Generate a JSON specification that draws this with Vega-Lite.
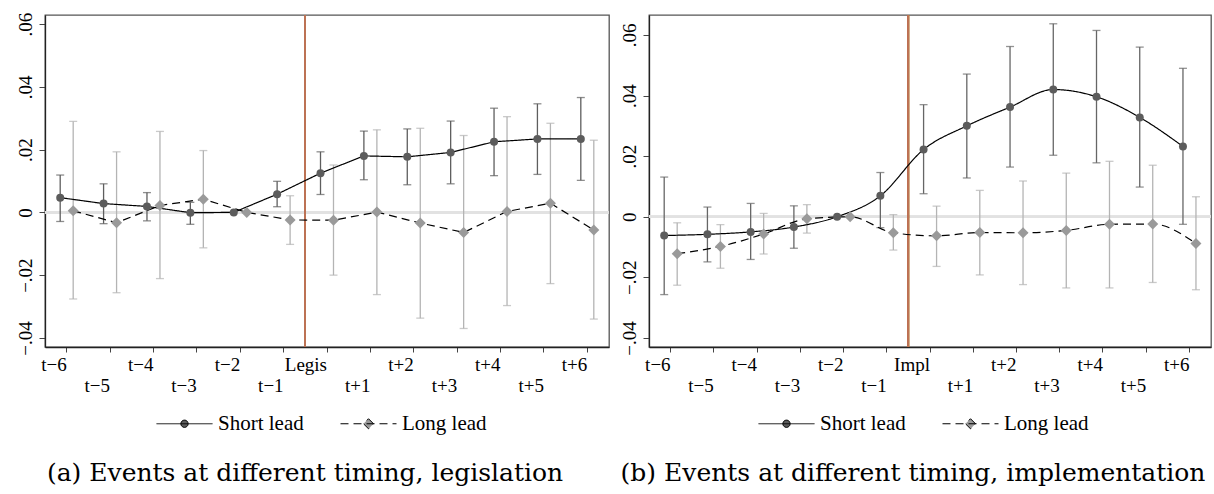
{
  "$schema": "https://vega.github.io/schema/vega-lite/v6.json",
  "background": "white",
  "padding": {"left": 15, "top": 11, "right": 5, "bottom": 5},
  "spacing": 8,
  "config": {
    "font": "Liberation Serif",
    "view": {"stroke": "#555", "strokeWidth": 1.3},
    "axis": {"grid": false, "labelFont": "Liberation Serif", "labelFontSize": 19, "labelColor": "black", "domainColor": "#222", "domainWidth": 1.3, "tickColor": "#444", "tickSize": 5},
    "legend": {"labelFont": "Liberation Serif", "labelFontSize": 21, "labelColor": "black"}
  },
  "resolve": {"scale": {"strokeDash": "independent"}, "legend": {"strokeDash": "independent"}},
  "datasets": {
    "a": [
      {"t": "t−6", "series": "Short lead", "b": 0.0047, "lo": -0.0029, "hi": 0.0119},
      {"t": "t−5", "series": "Short lead", "b": 0.0028, "lo": -0.0036, "hi": 0.0091},
      {"t": "t−4", "series": "Short lead", "b": 0.0019, "lo": -0.0027, "hi": 0.0063},
      {"t": "t−3", "series": "Short lead", "b": -0.0001, "lo": -0.0038, "hi": 0.0032},
      {"t": "t−2", "series": "Short lead", "b": 0, "lo": null, "hi": null},
      {"t": "t−1", "series": "Short lead", "b": 0.0058, "lo": 0.0018, "hi": 0.0099},
      {"t": "Legis", "series": "Short lead", "b": 0.0125, "lo": 0.0057, "hi": 0.0193},
      {"t": "t+1", "series": "Short lead", "b": 0.018, "lo": 0.0104, "hi": 0.0259},
      {"t": "t+2", "series": "Short lead", "b": 0.0177, "lo": 0.0088, "hi": 0.0266},
      {"t": "t+3", "series": "Short lead", "b": 0.0191, "lo": 0.0091, "hi": 0.0291},
      {"t": "t+4", "series": "Short lead", "b": 0.0225, "lo": 0.0117, "hi": 0.0332},
      {"t": "t+5", "series": "Short lead", "b": 0.0234, "lo": 0.0121, "hi": 0.0346},
      {"t": "t+6", "series": "Short lead", "b": 0.0234, "lo": 0.0102, "hi": 0.0366},
      {"t": "t−6", "series": "Long lead", "b": 0.0005, "lo": -0.0276, "hi": 0.029},
      {"t": "t−5", "series": "Long lead", "b": -0.0033, "lo": -0.0256, "hi": 0.0193},
      {"t": "t−4", "series": "Long lead", "b": 0.0022, "lo": -0.0211, "hi": 0.0258},
      {"t": "t−3", "series": "Long lead", "b": 0.0042, "lo": -0.0113, "hi": 0.0197},
      {"t": "t−2", "series": "Long lead", "b": 0, "lo": null, "hi": null},
      {"t": "t−1", "series": "Long lead", "b": -0.0024, "lo": -0.0102, "hi": 0.0053},
      {"t": "Legis", "series": "Long lead", "b": -0.0025, "lo": -0.02, "hi": 0.0151},
      {"t": "t+1", "series": "Long lead", "b": 0.0001, "lo": -0.0262, "hi": 0.0263},
      {"t": "t+2", "series": "Long lead", "b": -0.0034, "lo": -0.0337, "hi": 0.0268},
      {"t": "t+3", "series": "Long lead", "b": -0.0064, "lo": -0.037, "hi": 0.0245},
      {"t": "t+4", "series": "Long lead", "b": 0.0003, "lo": -0.0297, "hi": 0.0305},
      {"t": "t+5", "series": "Long lead", "b": 0.0029, "lo": -0.0227, "hi": 0.0284},
      {"t": "t+6", "series": "Long lead", "b": -0.0056, "lo": -0.034, "hi": 0.023}
    ],
    "b": [
      {"t": "t−6", "series": "Short lead", "b": -0.0062, "lo": -0.0257, "hi": 0.0131},
      {"t": "t−5", "series": "Short lead", "b": -0.0058, "lo": -0.0149, "hi": 0.0032},
      {"t": "t−4", "series": "Short lead", "b": -0.005, "lo": -0.0141, "hi": 0.0044},
      {"t": "t−3", "series": "Short lead", "b": -0.0034, "lo": -0.0104, "hi": 0.0036},
      {"t": "t−2", "series": "Short lead", "b": 0, "lo": null, "hi": null},
      {"t": "t−1", "series": "Short lead", "b": 0.0069, "lo": -0.0036, "hi": 0.0146},
      {"t": "Impl", "series": "Short lead", "b": 0.0222, "lo": 0.0076, "hi": 0.037},
      {"t": "t+1", "series": "Short lead", "b": 0.03, "lo": 0.0128, "hi": 0.0471},
      {"t": "t+2", "series": "Short lead", "b": 0.0362, "lo": 0.0164, "hi": 0.0562},
      {"t": "t+3", "series": "Short lead", "b": 0.042, "lo": 0.0203, "hi": 0.0637},
      {"t": "t+4", "series": "Short lead", "b": 0.0396, "lo": 0.0178, "hi": 0.0615},
      {"t": "t+5", "series": "Short lead", "b": 0.0328, "lo": 0.0098, "hi": 0.056},
      {"t": "t+6", "series": "Short lead", "b": 0.0232, "lo": -0.0025, "hi": 0.049},
      {"t": "t−6", "series": "Long lead", "b": -0.0122, "lo": -0.0226, "hi": -0.002},
      {"t": "t−5", "series": "Long lead", "b": -0.0098, "lo": -0.017, "hi": -0.0026},
      {"t": "t−4", "series": "Long lead", "b": -0.0057, "lo": -0.0123, "hi": 0.0011},
      {"t": "t−3", "series": "Long lead", "b": -0.0007, "lo": -0.0054, "hi": 0.004},
      {"t": "t−2", "series": "Long lead", "b": 0, "lo": null, "hi": null},
      {"t": "t−1", "series": "Long lead", "b": -0.0053, "lo": -0.011, "hi": 0.0007},
      {"t": "Impl", "series": "Long lead", "b": -0.0063, "lo": -0.0164, "hi": 0.0035},
      {"t": "t+1", "series": "Long lead", "b": -0.0052, "lo": -0.0192, "hi": 0.0087},
      {"t": "t+2", "series": "Long lead", "b": -0.0053, "lo": -0.0224, "hi": 0.0118},
      {"t": "t+3", "series": "Long lead", "b": -0.0045, "lo": -0.0235, "hi": 0.0144},
      {"t": "t+4", "series": "Long lead", "b": -0.0025, "lo": -0.0235, "hi": 0.0183},
      {"t": "t+5", "series": "Long lead", "b": -0.0024, "lo": -0.0217, "hi": 0.017},
      {"t": "t+6", "series": "Long lead", "b": -0.0088, "lo": -0.0241, "hi": 0.0066}
    ]
  },
  "hconcat": [
    {
      "width": 564,
      "height": 332,
      "data": {"name": "a"},
      "title": {"text": "(a) Events at different timing, legislation", "orient": "bottom", "anchor": "middle", "font": "DejaVu Serif", "fontSize": 25, "fontWeight": "normal", "color": "black", "offset": 27, "dx": -22},
      "layer": [
        {"mark": {"type": "rule", "color": "#e2e2e2", "strokeWidth": 2}, "encoding": {"y": {"datum": 0, "type": "quantitative"}}},
        {"mark": {"type": "rule", "color": "#bd7355", "strokeWidth": 1.3}, "encoding": {"x": {"datum": "Legis", "type": "nominal", "bandPosition": 0}}},
        {
          "mark": {"type": "rule", "strokeWidth": 1.3},
          "encoding": {
            "x": {"field": "t", "type": "nominal", "title": null, "sort": null, "scale": {"type": "band", "domain": ["t−6","t−5","t−4","t−3","t−2","t−1","Legis","t+1","t+2","t+3","t+4","t+5","t+6"], "paddingInner": 0, "paddingOuter": 0},
              "axis": {"labelAngle": 0, "domain": true, "labelPadding": 12, "labelLineHeight": 21, "labelExpr": "indexof(['t−5','t−3','t−1','t+1','t+3','t+5'], datum.value) >= 0 ? ['', datum.value] : datum.value"}},
            "xOffset": {"field": "series", "type": "nominal", "scale": {"domain": ["Short lead", "Long lead"], "paddingInner": 0, "paddingOuter": 0.67}},
            "y": {"field": "lo", "type": "quantitative", "title": null, "scale": {"domain": [-0.0429, 0.0629], "nice": false, "zero": false},
              "axis": {"values": [-0.04, -0.02, 0, 0.02, 0.04, 0.06], "labelAngle": -90, "labelAlign": "center", "labelBaseline": "bottom", "tickSize": 6, "labelPadding": 4, "labelExpr": "datum.value == 0 ? '0' : (datum.value < 0 ? '−' : '') + '.0' + round(abs(datum.value) * 100)"}},
            "y2": {"field": "hi"},
            "color": {"condition": {"test": "datum.series == 'Short lead'", "value": "#5e5e5e"}, "value": "#b4b4b4"}
          }
        },
        {
          "mark": {"type": "tick", "thickness": 1.3, "size": 8},
          "encoding": {
            "x": {"field": "t", "type": "nominal"},
            "xOffset": {"field": "series", "type": "nominal"},
            "y": {"field": "hi", "type": "quantitative"},
            "color": {"condition": {"test": "datum.series == 'Short lead'", "value": "#5e5e5e"}, "value": "#b4b4b4"}
          }
        },
        {
          "mark": {"type": "tick", "thickness": 1.3, "size": 8},
          "encoding": {
            "x": {"field": "t", "type": "nominal"},
            "xOffset": {"field": "series", "type": "nominal"},
            "y": {"field": "lo", "type": "quantitative"},
            "color": {"condition": {"test": "datum.series == 'Short lead'", "value": "#5e5e5e"}, "value": "#b4b4b4"}
          }
        },
        {
          "mark": {"type": "line", "color": "black", "strokeWidth": 1.2},
          "encoding": {
            "x": {"field": "t", "type": "nominal"},
            "xOffset": {"field": "series", "type": "nominal"},
            "y": {"field": "b", "type": "quantitative"},
            "strokeDash": {"field": "series", "type": "nominal", "scale": {"domain": ["Short lead", "Long lead"], "range": [[1, 0], [8, 5]]},
              "legend": {"orient": "none", "legendX": 111, "legendY": 380, "direction": "horizontal", "title": null, "columnPadding": 34, "labelOffset": 5,
                "symbolType": {"expr": "datum.value == 'Short lead' ? 'M-1,0H1M0.13,0A0.13,0.13,0,1,1,-0.13,0A0.13,0.13,0,1,1,0.13,0Z' : 'M-1,0H1M0,-0.18L0.18,0L0,0.18L-0.18,0Z'"},
                "symbolSize": 3136,
                "symbolFillColor": {"expr": "datum.value == 'Short lead' ? '#5c5c5c' : '#9a9a9a'"},
                "symbolStrokeColor": "black",
                "symbolStrokeWidth": 1,
                "symbolOpacity": 1}}
          }
        },
        {
          "mark": {"type": "point", "filled": true, "opacity": 1},
          "encoding": {
            "x": {"field": "t", "type": "nominal"},
            "xOffset": {"field": "series", "type": "nominal"},
            "y": {"field": "b", "type": "quantitative"},
            "shape": {"condition": {"test": "datum.series == 'Short lead'", "value": "circle"}, "value": "diamond"},
            "size": {"condition": {"test": "datum.series == 'Short lead'", "value": 64}, "value": 121},
            "fill": {"condition": {"test": "datum.series == 'Short lead'", "value": "#5c5c5c"}, "value": "#9a9a9a"}
          }
        }
      ]
    },
    {
      "width": 562,
      "height": 332,
      "data": {"name": "b"},
      "title": {"text": "(b) Events at different timing, implementation", "orient": "bottom", "anchor": "middle", "font": "DejaVu Serif", "fontSize": 25, "fontWeight": "normal", "color": "black", "offset": 27, "dx": -17},
      "layer": [
        {"mark": {"type": "rule", "color": "#e2e2e2", "strokeWidth": 2}, "encoding": {"y": {"datum": 0, "type": "quantitative"}}},
        {"mark": {"type": "rule", "color": "#bd7355", "strokeWidth": 1.3}, "encoding": {"x": {"datum": "Impl", "type": "nominal", "bandPosition": 0}}},
        {
          "mark": {"type": "rule", "strokeWidth": 1.3},
          "encoding": {
            "x": {"field": "t", "type": "nominal", "title": null, "sort": null, "scale": {"type": "band", "domain": ["t−6","t−5","t−4","t−3","t−2","t−1","Impl","t+1","t+2","t+3","t+4","t+5","t+6"], "paddingInner": 0, "paddingOuter": 0},
              "axis": {"labelAngle": 0, "domain": true, "labelPadding": 12, "labelLineHeight": 21, "labelExpr": "indexof(['t−5','t−3','t−1','t+1','t+3','t+5'], datum.value) >= 0 ? ['', datum.value] : datum.value"}},
            "xOffset": {"field": "series", "type": "nominal", "scale": {"domain": ["Short lead", "Long lead"], "paddingInner": 0, "paddingOuter": 0.67}},
            "y": {"field": "lo", "type": "quantitative", "title": null, "scale": {"domain": [-0.043, 0.0666], "nice": false, "zero": false},
              "axis": {"values": [-0.04, -0.02, 0, 0.02, 0.04, 0.06], "labelAngle": -90, "labelAlign": "center", "labelBaseline": "bottom", "tickSize": 6, "labelPadding": 4, "labelExpr": "datum.value == 0 ? '0' : (datum.value < 0 ? '−' : '') + '.0' + round(abs(datum.value) * 100)"}},
            "y2": {"field": "hi"},
            "color": {"condition": {"test": "datum.series == 'Short lead'", "value": "#666666"}, "value": "#b4b4b4"}
          }
        },
        {
          "mark": {"type": "tick", "thickness": 1.3, "size": 8},
          "encoding": {
            "x": {"field": "t", "type": "nominal"},
            "xOffset": {"field": "series", "type": "nominal"},
            "y": {"field": "hi", "type": "quantitative"},
            "color": {"condition": {"test": "datum.series == 'Short lead'", "value": "#666666"}, "value": "#b4b4b4"}
          }
        },
        {
          "mark": {"type": "tick", "thickness": 1.3, "size": 8},
          "encoding": {
            "x": {"field": "t", "type": "nominal"},
            "xOffset": {"field": "series", "type": "nominal"},
            "y": {"field": "lo", "type": "quantitative"},
            "color": {"condition": {"test": "datum.series == 'Short lead'", "value": "#666666"}, "value": "#b4b4b4"}
          }
        },
        {
          "mark": {"type": "line", "color": "black", "strokeWidth": 1.2, "interpolate": "monotone"},
          "encoding": {
            "x": {"field": "t", "type": "nominal"},
            "xOffset": {"field": "series", "type": "nominal"},
            "y": {"field": "b", "type": "quantitative"},
            "strokeDash": {"field": "series", "type": "nominal", "scale": {"domain": ["Short lead", "Long lead"], "range": [[1, 0], [8, 5]]},
              "legend": {"orient": "none", "legendX": 109, "legendY": 380, "direction": "horizontal", "title": null, "columnPadding": 34, "labelOffset": 5,
                "symbolType": {"expr": "datum.value == 'Short lead' ? 'M-1,0H1M0.13,0A0.13,0.13,0,1,1,-0.13,0A0.13,0.13,0,1,1,0.13,0Z' : 'M-1,0H1M0,-0.18L0.18,0L0,0.18L-0.18,0Z'"},
                "symbolSize": 3136,
                "symbolFillColor": {"expr": "datum.value == 'Short lead' ? '#5c5c5c' : '#9a9a9a'"},
                "symbolStrokeColor": "black",
                "symbolStrokeWidth": 1,
                "symbolOpacity": 1}}
          }
        },
        {
          "mark": {"type": "point", "filled": true, "opacity": 1},
          "encoding": {
            "x": {"field": "t", "type": "nominal"},
            "xOffset": {"field": "series", "type": "nominal"},
            "y": {"field": "b", "type": "quantitative"},
            "shape": {"condition": {"test": "datum.series == 'Short lead'", "value": "circle"}, "value": "diamond"},
            "size": {"condition": {"test": "datum.series == 'Short lead'", "value": 64}, "value": 121},
            "fill": {"condition": {"test": "datum.series == 'Short lead'", "value": "#5c5c5c"}, "value": "#9a9a9a"}
          }
        }
      ]
    }
  ]
}
